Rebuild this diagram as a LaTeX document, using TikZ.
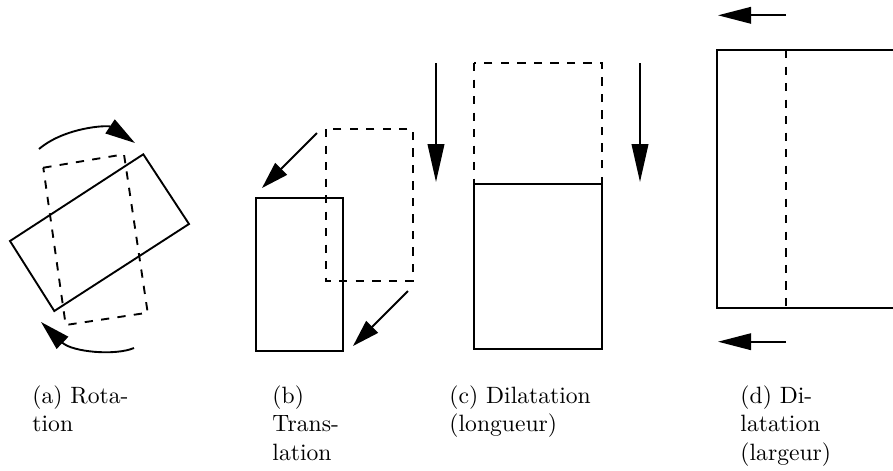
\documentclass[tikz,border=0pt]{standalone}
\usetikzlibrary{arrows.meta}

\tikzset{
  outline/.style={line width=0.8pt, line join=miter},
  ghost/.style={line width=0.8pt, dash pattern=on 3.5pt off 3.5pt},
  mvarrow/.style={line width=0.8pt, -{Triangle[length=#1,width=7pt]}},
  legend/.style={anchor=north west, inner sep=0pt, align=left}
}

\begin{document}
\begin{tikzpicture}[x=0.4237pt, y=-0.4237pt]

\useasboundingbox (0,0) rectangle (893,470);
\clip (0,0) rectangle (893,470);

% (a) rotation
\coordinate (r1) at (10,241);
\coordinate (r2) at (143.3,154.3);
\coordinate (r3) at (189,224);
\coordinate (r4) at (54.3,311);
\coordinate (q1) at (43.3,167.7);
\coordinate (q2) at (124,154.3);
\coordinate (q3) at (147.7,312.7);
\coordinate (q4) at (65.7,325);

  \draw[ghost] (q1) -- (q2) -- (q3) -- (q4) -- cycle;
  \draw[outline] (r1) -- (r2) -- (r3) -- (r4) -- cycle;

\coordinate (rt0) at (39,149);
\coordinate (rt1) at (135,143);
\coordinate (rb0) at (134,348);
\coordinate (rb1) at (41,322);

  \draw[mvarrow=12.7pt] (rt0) .. controls (65,127) and (108,125) .. (rt1);
  \draw[mvarrow=12.7pt] (rb0) .. controls (115,356) and (72,352) .. (rb1);

% (b) translation
\coordinate (t1) at (256,198);
\coordinate (t2) at (343,351);
\coordinate (s1) at (326,129);
\coordinate (s2) at (413,281);

  \draw[ghost] (s1) rectangle (s2);
  \draw[outline] (t1) rectangle (t2);

\coordinate (ta0) at (317,133);
\coordinate (ta1) at (262,188);
\coordinate (tb0) at (408,291);
\coordinate (tb1) at (353,346);

  \draw[mvarrow=11.5pt] (ta0) -- (ta1);
  \draw[mvarrow=11.5pt] (tb0) -- (tb1);

% (c) dilatation longueur
\coordinate (l0) at (474,63);
\coordinate (l1) at (474,184);
\coordinate (l2) at (602,349);

  \draw[ghost] (l0) rectangle (l2);
  \draw[outline] (l1) rectangle (l2);

\coordinate (la0) at (436,63);
\coordinate (la1) at (436,182);
\coordinate (lb0) at (640,63);
\coordinate (lb1) at (640,182);

  \draw[mvarrow=16pt] (la0) -- (la1);
  \draw[mvarrow=16pt] (lb0) -- (lb1);

% (d) dilatation largeur
\coordinate (w1) at (717,50);
\coordinate (w2) at (960,308);
\coordinate (v1) at (786,50);

  \draw[ghost] (v1) rectangle (w2);
  \draw[outline] (w1) rectangle (w2);

\coordinate (wa0) at (786,15.3);
\coordinate (wa1) at (718,15.3);
\coordinate (wb0) at (786,341.7);
\coordinate (wb1) at (718,341.7);

  \draw[mvarrow=14pt] (wa0) -- (wa1);
  \draw[mvarrow=14pt] (wb0) -- (wb1);

% captions
\node[legend] (capa) at (32,385.3) {(a) Rota-\\tion};
\node[legend] (capb) at (272,385.3) {(b)\\Trans-\\lation};
\node[legend] (capc) at (449,385.3) {(c) Dilatation\\(longueur)};
\node[legend] (capd) at (740,385.3) {(d) Di-\\latation\\(largeur)};

\end{tikzpicture}
\end{document}
